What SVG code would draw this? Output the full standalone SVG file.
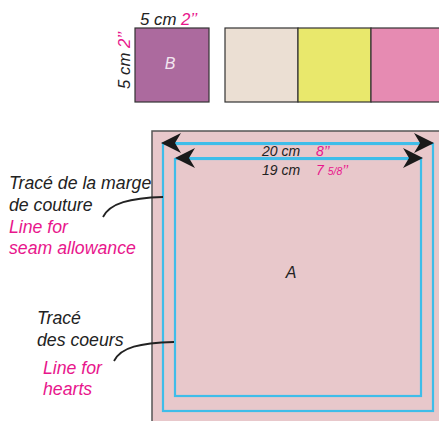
<svg xmlns="http://www.w3.org/2000/svg" width="439" height="421" viewBox="0 0 439 421">
<defs>
<style>
text{font-family:"Liberation Sans",Arial,sans-serif;font-style:italic;}
.k{fill:#222;}
.p{fill:#e8168c;}
.sq{stroke:#333;stroke-width:1.2;}
.blue{fill:none;stroke:#3fbde9;stroke-width:2.2;}
.dim{stroke:#3fbde9;stroke-width:2;}
.lead{fill:none;stroke:#222;stroke-width:1.8;}
.lbl{font-size:17.7px;}
</style>
<marker id="ah" viewBox="0 0 20 20" refX="19" refY="10" markerWidth="20" markerHeight="20" markerUnits="userSpaceOnUse" orient="auto-start-reverse">
<path d="M0,0 L20,10 L0,20 L6,10 Z" fill="#1a1a1a"/>
</marker>
</defs>
<g id="fabric-sample">
<rect x="135" y="28" width="74" height="74" fill="#ac6a9e" class="sq"/>
<text x="170" y="69" font-size="16" fill="#f2e6f0" text-anchor="middle">B</text>
<text x="140" y="25" font-size="16.8" class="k">5 cm <tspan class="p">2’’</tspan></text>
<text transform="translate(130,89) rotate(-90)" font-size="16.8" class="k">5 cm <tspan class="p">2’’</tspan></text>
</g>
<g id="swatches">
<rect x="225" y="28" width="73" height="74" fill="#ebdfd3" class="sq"/>
<rect x="298" y="28" width="73" height="74" fill="#e9e86c" class="sq"/>
<rect x="371" y="28" width="73" height="74" fill="#e68bb2" class="sq"/>
</g>
<g id="piece-A">
<rect x="152" y="131" width="300" height="300" fill="#e8c8cb" stroke="#555" stroke-width="1.5"/>
<rect x="163" y="144" width="270" height="267" class="blue"/>
<rect x="175" y="159" width="246" height="237" class="blue"/>
<text x="291" y="278" font-size="16" class="k" text-anchor="middle">A</text>
</g>
<g id="connectors">
<line x1="162" y1="143" x2="433" y2="143" class="dim" marker-start="url(#ah)" marker-end="url(#ah)"/>
<line x1="176" y1="158" x2="422" y2="158" class="dim" marker-start="url(#ah)" marker-end="url(#ah)"/>
<path d="M103,217 C110,203 130,198 163,197" class="lead"/>
<path d="M114,361 C121,347 140,343 174,342" class="lead"/>
</g>
<g id="dim-labels">
<text x="262" y="156" font-size="14" class="k">20 cm</text>
<text x="316" y="156" font-size="14" class="p">8’’</text>
<text x="262" y="175" font-size="14" class="k">19 cm</text>
<text x="316" y="175" font-size="14" class="p">7 <tspan font-size="10.5">5/8</tspan>’’</text>
</g>
<g id="label-seam">
<text x="9" y="189" class="k lbl">Tracé de la marge</text>
<text x="9" y="211" class="k lbl">de couture</text>
<text x="9" y="233" class="p lbl">Line for</text>
<text x="9" y="254" class="p lbl">seam allowance</text>
</g>
<g id="label-hearts">
<text x="37" y="324" class="k lbl">Tracé</text>
<text x="37" y="346" class="k lbl">des coeurs</text>
<text x="43" y="374" class="p lbl">Line for</text>
<text x="43" y="395" class="p lbl">hearts</text>
</g>
</svg>
